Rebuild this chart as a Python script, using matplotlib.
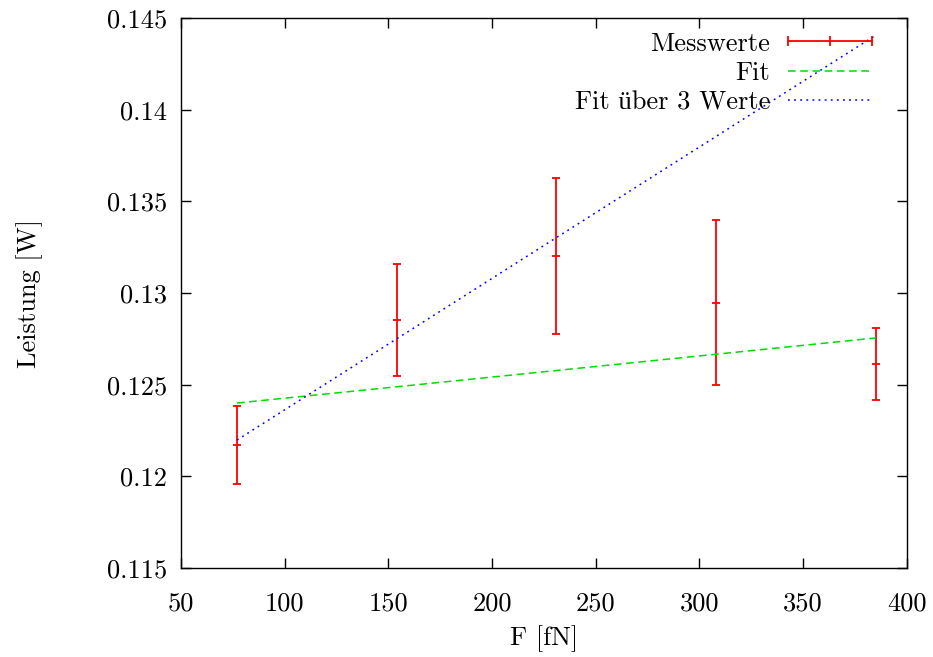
import numpy as np
import matplotlib
matplotlib.use('Agg')
import matplotlib.pyplot as plt
from matplotlib.lines import Line2D
from matplotlib.legend_handler import HandlerBase

plt.rcParams['font.family'] = ['cmr10', 'Liberation Serif']
plt.rcParams['mathtext.fontset'] = 'cm'
plt.rcParams['axes.formatter.use_mathtext'] = True

# Messwerte
F = [77, 154, 231, 308, 385]
P = [0.12171, 0.12853, 0.13202, 0.12947, 0.12614]
P_err = [0.00214, 0.00303, 0.00424, 0.00450, 0.00196]

# Fitgeraden  P = a*F + b
fit_a, fit_b = 1.153e-5, 0.12311
fit3_a, fit3_b = 7.17e-5, 0.11646

xticks = [50, 100, 150, 200, 250, 300, 350, 400]
yticks = [0.115, 0.12, 0.125, 0.13, 0.135, 0.14, 0.145]

FS = 19


class GnuErr(HandlerBase):
    def create_artists(self, legend, orig, xd, yd, w, h, fontsize, trans):
        y = yd + h / 2
        ln = Line2D([xd, xd + w], [y, y], color='red', lw=1.3, transform=trans)
        caps = Line2D([xd, xd + w / 2, xd + w], [y, y, y], ls='none', marker='|',
                      ms=7, mew=1.3, color='red', transform=trans)
        return [ln, caps]


fig = plt.figure(figsize=(9.33, 6.57), dpi=100)
ax = fig.add_axes([0.194, 0.1355, 0.778, 0.837])

xx = np.array([F[0], F[-1]])
ax.errorbar(F, P, yerr=P_err, fmt='none', ecolor='red', elinewidth=1.3,
            capsize=3, capthick=1.3)
ax.plot(F, P, ls='none', marker='_', ms=6, mew=1.3, color='red')
l1, = ax.plot(xx, fit_a * xx + fit_b, color='#00dd00', lw=1.1, ls=(0, (5, 3)))
l2, = ax.plot(xx, fit3_a * xx + fit3_b, color='#0000ff', lw=1.1, ls=(0, (1.2, 2.8)))

ax.set_xlim(50, 400)
ax.set_ylim(0.115, 0.145)
ax.set_xticks(xticks)
ax.set_yticks(yticks)
ax.set_xticklabels([str(t) for t in xticks])
ax.set_yticklabels([('%g' % t) for t in yticks])
ax.tick_params(direction='in', length=7, width=1, top=True, right=True,
               labelsize=FS)
ax.tick_params(axis='x', pad=17)
ax.tick_params(axis='y', pad=10)
for s in ax.spines.values():
    s.set_linewidth(1)

ax.set_xlabel('F [fN]', fontsize=FS, labelpad=7)
ax.set_ylabel('Leistung [W]', fontsize=FS, labelpad=46)

dummy = Line2D([], [], color='red')
ax.legend([dummy, l1, l2], ['Messwerte', 'Fit', 'Fit über 3 Werte'],
          handler_map={dummy: GnuErr()}, markerfirst=False, frameon=False,
          loc='upper right', bbox_to_anchor=(0.952, 0.975), borderpad=0,
          borderaxespad=0, fontsize=FS, handlelength=3.2, handletextpad=0.65,
          labelspacing=0.22)

fig.savefig('out.png', dpi=100)
